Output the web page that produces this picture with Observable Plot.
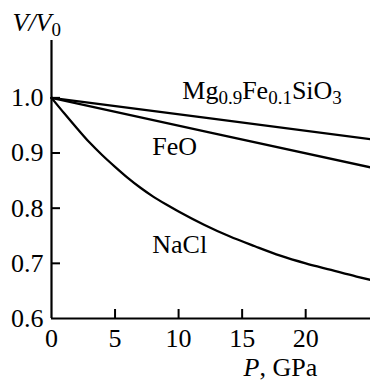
<!DOCTYPE html>
<html>
<head>
<meta charset="utf-8">
<script src="https://cdn.jsdelivr.net/npm/d3@7"></script>
<script src="https://cdn.jsdelivr.net/npm/@observablehq/plot@0.6"></script>
<style>
  html, body { margin: 0; padding: 0; background: #fff; }
  #chart svg { display: block; }
</style>
</head>
<body>
<div id="chart"></div>
<script>
// Pressure (GPa) and relative volume V/V0
const naclP = [0, 1, 2, 3, 4, 5, 6, 7, 8, 9, 10, 12, 14, 16, 18, 20, 22, 24, 25.1];
const naclV = [1.000, 0.972, 0.945, 0.919, 0.896, 0.875, 0.855, 0.837, 0.821, 0.807, 0.794, 0.770, 0.749, 0.731, 0.714, 0.700, 0.688, 0.676, 0.670];

const lineP = [0, 12.5, 25.1];
const mgsiV = [1.000, 0.963, 0.925];
const feoV  = [1.000, 0.937, 0.874];

const xTicks = [0, 5, 10, 15, 20];
const yTicks = [0.6, 0.7, 0.8, 0.9, 1.0];

const seriesNames = ["Mg0.9Fe0.1SiO3", "FeO", "NaCl"];
const labelP = [10.29, 7.93, 7.93];
const labelV = [0.998, 0.897, 0.718];

const yTitle = "V/V0";
const xTitle = "P, GPa";

const nacl = naclP.map((p, i) => ({P: p, V: naclV[i]}));
const mgsi = lineP.map((p, i) => ({P: p, V: mgsiV[i]}));
const feo = lineP.map((p, i) => ({P: p, V: feoV[i]}));
const labels = seriesNames.map((s, i) => ({name: s, P: labelP[i], V: labelV[i]}));

const chart = Plot.plot({
  width: 370,
  height: 384,
  marginLeft: 51,
  marginRight: 0,
  marginTop: 40,
  marginBottom: 66,
  x: {domain: [0, 25.1]},
  y: {domain: [0.6, 1.104]},
  style: {fontFamily: "'Liberation Serif', 'Times New Roman', serif", fontSize: "26px", background: "#fff", color: "#000", overflow: "visible"},
  marks: [
    Plot.axisX({ticks: xTicks, tickSize: 0, tickPadding: 10, label: null, tickFormat: d3.format("d"), fontSize: 26}),
    Plot.axisY({ticks: yTicks, tickSize: 0, tickPadding: 8, label: null, tickFormat: d3.format(".1f"), fontSize: 26}),
    Plot.tickX(xTicks.filter(d => d > 0), {x: d => d, insetTop: 269, stroke: "#000", strokeWidth: 2}),
    Plot.tickY(yTicks.filter(d => d > 0.6), {y: d => d, insetRight: 310, stroke: "#000", strokeWidth: 2}),
    Plot.ruleX([0], {stroke: "#000", strokeWidth: 2.2}),
    Plot.ruleY([0.6], {stroke: "#000", strokeWidth: 2.2}),
    Plot.line(mgsi, {x: "P", y: "V", stroke: "#000", strokeWidth: 2.3}),
    Plot.line(feo, {x: "P", y: "V", stroke: "#000", strokeWidth: 2.3}),
    Plot.line(nacl, {x: "P", y: "V", stroke: "#000", strokeWidth: 2.3, curve: "monotone-x"}),
    Plot.text(labels, {x: "P", y: "V", text: "name", textAnchor: "start", lineAnchor: "bottom", fill: "#000", fontSize: 26, className: "serieslabel"}),
    Plot.text([yTitle], {frameAnchor: "top-left", text: d => d, textAnchor: "start", lineAnchor: "bottom", dx: -39, dy: -10, fill: "#000", fontSize: 26, className: "ytitle"}),
    Plot.text([xTitle], {frameAnchor: "bottom-left", text: d => d, textAnchor: "start", lineAnchor: "bottom", dx: 192, dy: 57, fill: "#000", fontSize: 26, className: "xtitle"})
  ]
});

document.getElementById("chart").appendChild(chart);

// Rich text: italics and subscripts
function setRich(textEl, parts) {
  const t = d3.select(textEl);
  t.text(null);
  let shift = 0;
  for (const p of parts) {
    const ts = t.append("tspan").text(p.t);
    const target = p.sub ? 5 : 0;
    if (target !== shift) { ts.attr("dy", target - shift); shift = target; }
    if (p.sub) ts.attr("font-size", 19);
    if (p.it) ts.attr("font-style", "italic");
  }
}
const svg = d3.select(chart);
svg.selectAll("g.serieslabel text").each(function() {
  const s = this.textContent;
  if (s === "Mg0.9Fe0.1SiO3") {
    setRich(this, [{t: "Mg"}, {t: "0.9", sub: true}, {t: "Fe"}, {t: "0.1", sub: true}, {t: "SiO"}, {t: "3", sub: true}]);
  }
});
svg.selectAll("g.ytitle text").each(function() {
  setRich(this, [{t: "V/V", it: true}, {t: "0", sub: true}]);
});
svg.selectAll("g.xtitle text").each(function() {
  setRich(this, [{t: "P", it: true}, {t: ", GPa"}]);
});
</script>
</body>
</html>
